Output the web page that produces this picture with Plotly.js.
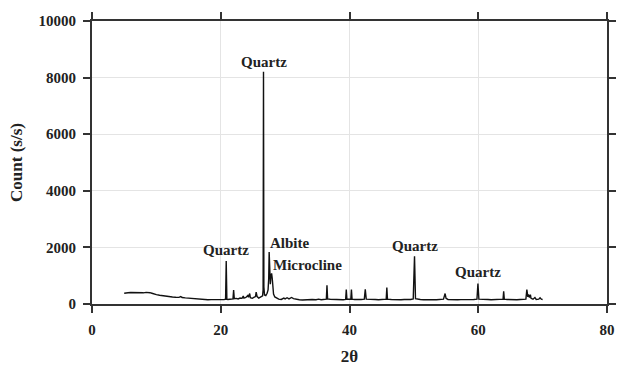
<!DOCTYPE html>
<html><head><meta charset="utf-8">
<script src="https://cdn.plot.ly/plotly-3.0.1.min.js"></script>
<style>html,body{margin:0;padding:0;background:#fff}#c{width:617px;height:368px}</style>
</head><body><div id="c"></div>
<script>
const twoTheta = [5.0,5.3,5.6,6.0,6.4,6.8,7.2,7.6,8.0,8.4,8.8,9.0,9.3,9.6,10.0,10.5,11.0,11.5,12.0,12.5,13.0,13.5,13.8,14.0,14.5,15.0,15.5,16.0,16.5,17.0,17.5,18.0,18.5,19.0,19.5,20.0,20.5,20.75,20.85,20.95,21.1,21.4,21.7,21.9,22.0,22.1,22.4,22.7,23.0,23.3,23.5,23.6,23.9,24.2,24.3,24.5,24.6,24.9,25.2,25.4,25.5,25.65,25.9,26.2,26.5,26.58,26.64,26.7,26.8,27.0,27.2,27.35,27.45,27.52,27.6,27.7,27.8,27.9,28.0,28.1,28.2,28.4,28.7,29.0,29.4,29.8,30.0,30.3,30.6,31.0,31.3,31.7,32.2,32.7,33.2,33.7,34.2,34.8,35.2,35.6,36.0,36.4,36.5,36.6,37.0,37.5,38.0,38.5,39.0,39.4,39.5,39.6,40.0,40.2,40.3,40.4,40.8,41.3,41.8,42.3,42.45,42.6,43.0,43.5,44.0,44.5,45.0,45.7,45.8,45.9,46.5,47.0,47.5,48.0,48.5,49.0,49.5,49.9,50.1,50.25,50.6,51.0,51.5,52.0,52.5,53.0,53.5,54.0,54.6,54.85,55.0,55.3,55.8,56.3,56.8,57.3,57.8,58.3,58.8,59.3,59.8,59.95,60.1,60.5,61.0,61.5,62.0,62.5,63.0,63.5,63.85,63.95,64.05,64.5,65.0,65.5,66.0,66.5,67.0,67.4,67.55,67.7,67.8,67.95,68.1,68.2,68.5,68.8,69.0,69.4,69.6,69.8,70.0];
const counts = [380,400,395,405,398,402,396,400,395,410,420,400,380,350,330,310,290,270,260,250,240,235,260,230,215,205,190,175,165,160,165,150,155,150,160,150,155,170,1520,170,160,170,160,180,490,190,200,180,210,200,280,210,230,300,240,370,220,200,240,260,420,260,210,260,290,500,8210,600,320,300,380,500,900,1840,800,700,1000,1080,900,600,350,250,200,170,160,210,180,220,180,230,190,160,150,140,150,140,160,150,170,150,160,170,660,180,170,160,150,160,150,160,510,170,160,170,510,170,160,150,160,170,520,170,160,150,160,150,160,170,580,170,160,150,160,150,160,150,160,180,1690,190,170,160,150,160,150,155,150,160,170,370,200,160,150,160,150,155,150,160,150,160,170,720,170,160,150,160,150,155,150,160,170,450,170,160,150,160,150,160,155,170,510,250,340,230,330,200,170,230,160,170,220,170,160];
const labelText = ["Quartz","Quartz","Albite","Microcline","Quartz","Quartz"];
const labelX = [26.64,20.85,27.4,27.8,50.1,59.9];
const labelY = [8550,1900,2150,1380,2050,1120];
const labelAnchor = ["center","center","left","left","center","center"];

const fontFam = "Liberation Serif, Times New Roman, serif";
const annotations = labelText.map((t,i)=>({
  x: labelX[i], y: labelY[i], text: t, showarrow:false, xanchor: labelAnchor[i], yanchor:'middle',
  font:{family:fontFam, size:15, color:'#222', weight:'bold'}
}));

const axisCommon = {
  showline:true, linewidth:2, linecolor:'#333', mirror:'ticks',
  ticks:'outside', ticklen:7, tickwidth:2, tickcolor:'#333',
  showgrid:true, gridcolor:'#e4e4e4', gridwidth:1, zeroline:false,
  tickformat:'d',
  tickfont:{family:fontFam, size:15, color:'#222', weight:'bold'}
};

Plotly.newPlot('c', [{
  x: twoTheta, y: counts, type:'scatter', mode:'lines',
  line:{color:'#111', width:1.4}, hoverinfo:'skip'
}], {
  width:617, height:368,
  margin:{l:92, r:10, t:21, b:64},
  paper_bgcolor:'#fff', plot_bgcolor:'#fff',
  showlegend:false,
  xaxis: Object.assign({}, axisCommon, {range:[0,80], dtick:20, ticklabelstandoff:4,
    title:{text:'2θ', font:{family:fontFam, size:17, color:'#222', weight:'bold'}, standoff:13}}),
  yaxis: Object.assign({}, axisCommon, {range:[0,10000], dtick:2000, ticklabelstandoff:4,
    title:{text:'Count (s/s)', font:{family:fontFam, size:17, color:'#222', weight:'bold'}, standoff:12}}),
  annotations: annotations
}, {staticPlot:true});
</script></body></html>
